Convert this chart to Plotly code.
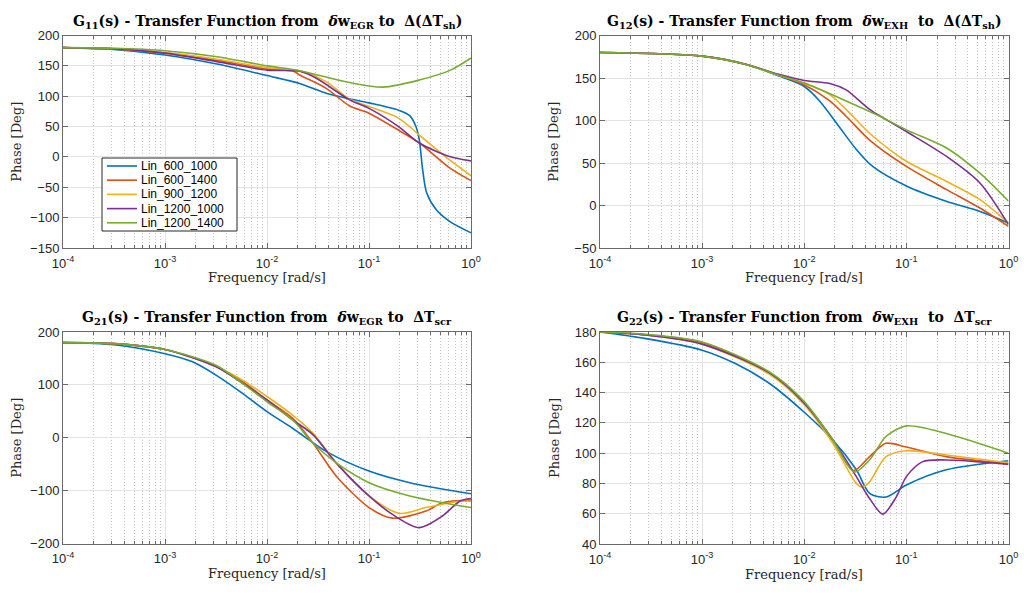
import plotly.graph_objects as go

names = ["Lin_600_1000", "Lin_600_1400", "Lin_900_1200", "Lin_1200_1000", "Lin_1200_1400"]
colors = ["#0072BD", "#D95319", "#EDB120", "#7E2F8E", "#77AC30"]

# ---- G11: log10(frequency) and phase [deg] per series ----
g11_lf = [
    [-4, -3.5, -3, -2.49, -2, -1.68, -1.42, -1.25, -1, -0.71, -0.6, -0.54, -0.507, -0.474, -0.435, -0.34, -0.21, 0],
    [-4, -3.5, -3, -2.49, -2, -1.74, -1.68, -1.42, -1.19, -1, -0.75, -0.507, -0.21, 0],
    [-4, -3.5, -3, -2.49, -2, -1.68, -1.42, -1.19, -1, -0.71, -0.507, -0.21, 0],
    [-4, -3.5, -3, -2.49, -2, -1.68, -1.52, -1.19, -1, -0.71, -0.507, -0.21, 0],
    [-4, -3.5, -3, -2.49, -2, -1.68, -1.19, -0.86, -0.5, -0.2, 0],
]
g11_ph = [
    [180, 177, 168, 153, 134, 121, 105, 98, 89, 77, 68, 50, 28, -21, -59, -87, -106, -125],
    [180, 178, 171, 159, 145, 141, 135, 113, 84, 72, 48, 23, -18, -39],
    [180, 178, 172, 161, 147, 142, 124, 95, 83, 64, 36, -5, -31],
    [180, 178, 171, 157, 143, 141, 130, 94, 80, 50, 23, 0.7, -6.5],
    [180, 179, 175, 165, 150, 142, 122.5, 115, 127, 143, 163],
]

# ---- G12 ----
g12_lf = [
    [-4, -3, -2.57, -2.24, -2, -1.85, -1.66, -1.49, -1.33, -1, -0.61, -0.28, 0],
    [-4, -3, -2.57, -2.24, -2, -1.75, -1.59, -1.36, -1, -0.61, -0.28, 0],
    [-4, -3, -2.57, -2.24, -2, -1.75, -1.59, -1.36, -1, -0.61, -0.28, 0],
    [-4, -3, -2.57, -2.24, -2, -1.75, -1.59, -1.36, -1, -0.61, -0.28, 0],
    [-4, -3, -2.57, -2.24, -2, -1.59, -1.26, -1, -0.61, -0.28, 0],
]
g12_ph = [
    [180, 175.7, 166, 152, 140, 123, 93, 66, 46, 23, 5, -7, -20.5],
    [180, 175.7, 166, 153, 142, 123, 105, 77, 46, 19, -3, -24.5],
    [180, 175.7, 166, 153, 144, 130.5, 113, 85, 52, 28.5, 7, -20.5],
    [180, 175.7, 166, 154, 147, 143.5, 136, 113, 87, 58, 26.5, -22.5],
    [180, 175.7, 166, 153, 144, 123, 105, 89, 68, 38, 5],
]

# ---- G21 ----
g21_lf = [
    [-4, -3.5, -3, -2.73, -2.5, -2.24, -2, -1.75, -1.42, -1, -0.6, 0],
    [-4, -3.5, -3, -2.5, -2.24, -2, -1.75, -1.55, -1.32, -1, -0.77, -0.44, -0.28, 0],
    [-4, -3.5, -3, -2.5, -2.24, -2, -1.75, -1.55, -1.32, -1, -0.7, -0.44, -0.11, 0],
    [-4, -3.5, -3, -2.5, -2.24, -2, -1.75, -1.55, -1.32, -1, -0.77, -0.51, -0.28, -0.11, 0],
    [-4, -3.5, -3, -2.5, -2.24, -2, -1.75, -1.55, -1.32, -1, -0.6, 0],
]
g21_ph = [
    [180, 176, 159, 143.6, 118.5, 84, 49.5, 18, -25.7, -63, -85, -106],
    [180, 178, 167, 135, 106, 71.5, 37, -10, -72.7, -132, -152, -138.6, -123, -118],
    [180, 178, 167, 135, 109, 78, 43, 9, -47.6, -110, -143, -132, -120, -120],
    [180, 178, 167, 134, 103, 71.5, 34, 6, -48, -110, -145, -170, -148, -120, -115],
    [180, 178, 167, 137, 103, 68, 34, -10, -47.6, -85, -110, -132],
]

# ---- G22 ----
g22_lf = [
    [-4, -3.55, -3, -2.67, -2.34, -2, -1.72, -1.49, -1.36, -1.2, -1, -0.61, 0],
    [-4, -3.55, -3, -2.34, -2, -1.72, -1.52, -1.36, -1.2, -1, -0.61, 0],
    [-4, -3.55, -3, -2.34, -2, -1.72, -1.49, -1.43, -1.36, -1.2, -1, -0.61, 0],
    [-4, -3.55, -3, -2.34, -2, -1.72, -1.49, -1.36, -1.23, -1.1, -1, -0.84, -0.61, 0],
    [-4, -3.55, -3, -2.34, -2, -1.72, -1.51, -1.36, -1.2, -1, -0.61, 0],
]
g22_ph = [
    [180, 175.6, 168, 159, 146, 127, 108.7, 89, 73.5, 71, 79, 89, 95],
    [180, 178, 173, 152.6, 133, 108.7, 88.5, 97.7, 106.5, 104, 97.7, 93],
    [180, 178, 172, 152, 132, 106.5, 80, 77.5, 81, 97.7, 101.6, 98.8, 93.7],
    [180, 178, 172, 153, 133, 108.7, 84.5, 70, 59.7, 71, 84.5, 94.4, 95.5, 92.6],
    [180, 178.5, 173.4, 153.6, 134, 108.7, 87.5, 95.5, 111, 118, 113, 100],
]

# ---- axes ticks ----
x_tickvals = [1e-4, 1e-3, 1e-2, 1e-1, 1e0]
x_ticktext = ["10<sup>-4</sup>", "10<sup>-3</sup>", "10<sup>-2</sup>", "10<sup>-1</sup>", "10<sup>0</sup>"]
y_ticks = {
    "G11": [-150, -100, -50, 0, 50, 100, 150, 200],
    "G12": [-50, 0, 50, 100, 150, 200],
    "G21": [-200, -100, 0, 100, 200],
    "G22": [40, 60, 80, 100, 120, 140, 160, 180],
}

titles = [
    "<b>G<sub>11</sub>(s) - Transfer Function from  <i>δ</i>w<sub>EGR</sub> to  Δ(ΔT<sub>sh</sub>)</b>",
    "<b>G<sub>12</sub>(s) - Transfer Function from  <i>δ</i>w<sub>EXH</sub>  to  Δ(ΔT<sub>sh</sub>)</b>",
    "<b>G<sub>21</sub>(s) - Transfer Function from  <i>δ</i>w<sub>EGR</sub> to  ΔT<sub>scr</sub></b>",
    "<b>G<sub>22</sub>(s) - Transfer Function from  <i>δ</i>w<sub>EXH</sub>  to  ΔT<sub>scr</sub></b>",
]

W, H = 1024, 596
panels = [
    ("G11", g11_lf, g11_ph, (63, 471), (35.5, 248)),
    ("G12", g12_lf, g12_ph, (600, 1008.5), (35.5, 248)),
    ("G21", g21_lf, g21_ph, (63, 471), (332, 543.5)),
    ("G22", g22_lf, g22_ph, (600, 1008.5), (332, 544)),
]

serif = "DejaVu Serif"
sans = "Liberation Sans"
axis_col = "#6a6a6a"
text_col = "#262626"

fig = go.Figure()
layout = dict()
annotations = []
shapes = []
for i, (key, lfs, phs, (x0, x1), (ytop, ybot)) in enumerate(panels):
    n = "" if i == 0 else str(i + 1)
    for j in range(5):
        fig.add_trace(go.Scatter(
            x=[10 ** v for v in lfs[j]], y=phs[j], mode="lines",
            line=dict(color=colors[j], width=1.6, shape="spline", smoothing=0.8),
            name=names[j], showlegend=False, hoverinfo="skip",
            xaxis="x" + n, yaxis="y" + n,
        ))
    yt = y_ticks[key]
    layout["xaxis" + n] = dict(
        type="log", domain=[x0 / W, x1 / W], anchor="y" + n, automargin=False,
        range=[-4, 0], tickvals=x_tickvals, ticktext=x_ticktext,
        ticks="inside", ticklen=5, tickcolor=axis_col, ticklabelstandoff=3,
        showline=True, linecolor=axis_col, linewidth=1, mirror="ticks",
        showgrid=True, gridcolor="#e3e3e3", gridwidth=1,
        minor=dict(dtick="D1", ticks="inside", ticklen=3, tickcolor=axis_col,
                   showgrid=True, gridcolor="#c4c4c4", griddash="1px,2px", gridwidth=1),
        tickfont=dict(family=sans, size=13, color=text_col),
        zeroline=False,
    )
    layout["yaxis" + n] = dict(
        domain=[1 - ybot / H, 1 - ytop / H], anchor="x" + n, automargin=False,
        range=[yt[0], yt[-1]], tickvals=yt,
        ticks="inside", ticklen=5, tickcolor=axis_col,
        showline=True, linecolor=axis_col, linewidth=1, mirror="ticks",
        showgrid=True, gridcolor="#e3e3e3", gridwidth=1,
        tickfont=dict(family=sans, size=13, color=text_col),
        zeroline=False,
    )
    xc = (x0 + x1) / 2
    annotations.append(dict(text=titles[i], x=xc / W, y=1 - (ytop - 3) / H, xref="paper", yref="paper",
                            showarrow=False, xanchor="center", yanchor="bottom",
                            font=dict(family=serif, size=14, color="black")))
    annotations.append(dict(text="Frequency [rad/s]", x=xc / W, y=1 - (ybot + 30) / H,
                            xref="paper", yref="paper", showarrow=False,
                            xanchor="center", yanchor="middle",
                            font=dict(family=serif, size=13, color=text_col)))
    annotations.append(dict(text="Phase [Deg]", x=(x0 - 46) / W, y=1 - (ytop + ybot) / 2 / H,
                            xref="paper", yref="paper", showarrow=False, textangle=-90,
                            xanchor="center", yanchor="middle",
                            font=dict(family=serif, size=13, color=text_col)))

# legend (top-left panel), drawn in paper coordinates
lg_x0, lg_x1, lg_y0, lg_y1 = 102, 237, 158, 231
shapes.append(dict(type="rect", xref="paper", yref="paper",
                   x0=lg_x0 / W, x1=lg_x1 / W, y0=1 - lg_y1 / H, y1=1 - lg_y0 / H,
                   line=dict(color="#262626", width=1), fillcolor="white", layer="above"))
for j in range(5):
    yy = 166 + j * 14.2
    shapes.append(dict(type="line", xref="paper", yref="paper",
                       x0=107 / W, x1=137 / W, y0=1 - yy / H, y1=1 - yy / H,
                       line=dict(color=colors[j], width=1.6), layer="above"))
    annotations.append(dict(text=names[j], x=139 / W, y=1 - yy / H, xref="paper", yref="paper",
                            showarrow=False, xanchor="left", yanchor="middle",
                            font=dict(family=sans, size=12, color="black")))

fig.update_layout(
    width=W, height=H, margin=dict(l=0, r=0, t=0, b=0, autoexpand=False),
    paper_bgcolor="white", plot_bgcolor="white", hovermode=False,
    annotations=annotations, shapes=shapes, showlegend=False,
    **layout,
)
fig.write_html("out.html", config={"displayModeBar": False},
               post_script="document.body.style.margin='0';document.body.style.overflow='hidden';")
